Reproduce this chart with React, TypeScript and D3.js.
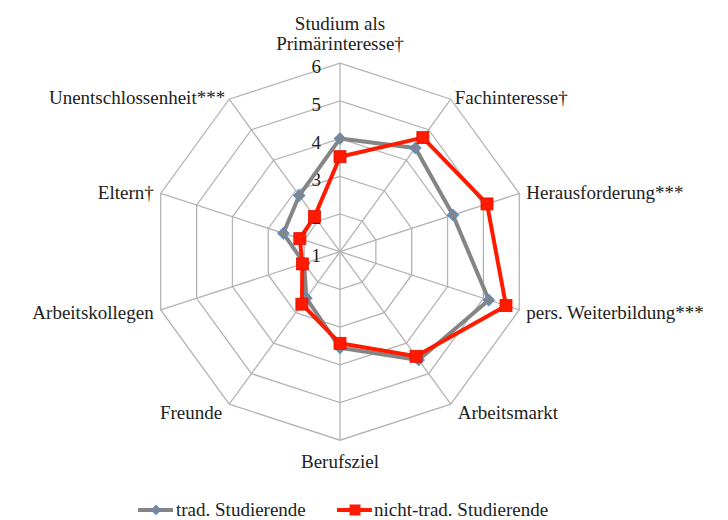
import React from "react";
import * as d3 from "d3";

const categories: string[][] = [
  ["Studium als", "Primärinteresse†"],
  ["Fachinteresse†"],
  ["Herausforderung***"],
  ["pers. Weiterbildung***"],
  ["Arbeitsmarkt"],
  ["Berufsziel"],
  ["Freunde"],
  ["Arbeitskollegen"],
  ["Eltern†"],
  ["Unentschlossenheit***"],
];
const tradValues = [4.0, 4.4, 4.15, 5.15, 4.55, 3.55, 2.52, 2.0, 2.58, 2.84];
const nichtTradValues = [3.52, 4.74, 5.1, 5.63, 4.43, 3.43, 2.72, 2.05, 2.12, 2.15];
const ticks = [1, 2, 3, 4, 5, 6];
const seriesNames = ["trad. Studierende", "nicht-trad. Studierende"];

const W = 728;
const H = 520;
const cx = 340;
const cy = 251.7;
const R = 188.5;
const FONT = "'Liberation Serif', 'Times New Roman', serif";
const FS = 19;

export default function App() {
  const r = d3.scaleLinear().domain([1, 6]).range([0, R]);
  const n = categories.length;
  const angle = d3.scaleLinear().domain([0, n]).range([0, 2 * Math.PI]);
  const pt = (i: number, v: number): [number, number] => {
    const a = angle(i);
    return [cx + r(v) * Math.sin(a), cy - r(v) * Math.cos(a)];
  };
  const closed = d3.line().curve(d3.curveLinearClosed);
  const labelDy = d3.scaleLinear().domain([-1, -0.81, -0.31, 0.31, 0.81]).range([28, 15, 9, 6, 5]);

  const gridColor = "#b4b4b4";
  const grayColor = "#858585";
  const redColor = "#ff1a00";

  const diamond = (x: number, y: number, s: number) =>
    `M${x},${y - s}L${x + s},${y}L${x},${y + s}L${x - s},${y}Z`;

  const legendY = 510;

  return (
    <svg
      width={W}
      height={H}
      style={{ position: "absolute", left: 0, top: 0, background: "#fff" }}
      fontFamily={FONT}
      fontSize={FS}
    >
      {/* rings */}
      {ticks.slice(1).map((t) => (
        <path
          key={"ring" + t}
          d={closed(d3.range(n).map((i) => pt(i, t))) || ""}
          fill="none"
          stroke={gridColor}
          strokeWidth={1.3}
        />
      ))}
      {/* spokes */}
      {d3.range(n).map((i) => {
        const [x, y] = pt(i, 6);
        return <line key={"sp" + i} x1={cx} y1={cy} x2={x} y2={y} stroke={gridColor} strokeWidth={1.3} />;
      })}
      {/* tick labels */}
      {ticks.map((t) => (
        <text key={"t" + t} x={cx - 19} y={cy - r(t) + 10} textAnchor="end" fill="#222">
          {t}
        </text>
      ))}
      {/* category labels */}
      {categories.map((lines, i) => {
        const a = angle(i);
        const s = Math.sin(a);
        const c = Math.cos(a);
        const [vx, vy] = pt(i, 6);
        if (Math.abs(s) < 0.01 && c > 0) {
          return (
            <text key={"c" + i} x={vx} textAnchor="middle" fill="#222">
              {lines.map((l, k) => (
                <tspan key={k} x={vx} y={vy - 13 - (lines.length - 1 - k) * 20}>
                  {l}
                </tspan>
              ))}
            </text>
          );
        }
        const anchor = Math.abs(s) < 0.01 ? "middle" : s > 0 ? "start" : "end";
        const dx = Math.abs(s) < 0.01 ? 0 : (s > 0 ? 1 : -1) * (Math.abs(c) > 0.7 && c > 0 ? 4 : 7);
        return (
          <text key={"c" + i} x={vx + dx} y={vy + labelDy(c)} textAnchor={anchor} fill="#222">
            {lines.join(" ")}
          </text>
        );
      })}
      {/* trad series */}
      <path
        d={closed(tradValues.map((v, i) => pt(i, v))) || ""}
        fill="none"
        stroke={grayColor}
        strokeWidth={4}
        strokeLinejoin="round"
      />
      {tradValues.map((v, i) => {
        const [x, y] = pt(i, v);
        return <path key={"d" + i} d={diamond(x, y, 5.5)} fill={grayColor} stroke="#5b8cc8" strokeWidth={1.2} />;
      })}
      {/* nicht-trad series */}
      <path
        d={closed(nichtTradValues.map((v, i) => pt(i, v))) || ""}
        fill="none"
        stroke={redColor}
        strokeWidth={4}
        strokeLinejoin="round"
      />
      {nichtTradValues.map((v, i) => {
        const [x, y] = pt(i, v);
        return <rect key={"s" + i} x={x - 6} y={y - 6} width={12} height={12} fill={redColor} stroke="#e01000" strokeWidth={0.8} />;
      })}
      {/* legend */}
      <g>
        <line x1={138} y1={legendY} x2={173} y2={legendY} stroke={grayColor} strokeWidth={4} />
        <path d={diamond(156, legendY, 4.5)} fill={grayColor} stroke="#5b8cc8" strokeWidth={1.2} />
        <text x={176} y={legendY + 6} fill="#222">{seriesNames[0]}</text>
        <line x1={337} y1={legendY} x2={372} y2={legendY} stroke={redColor} strokeWidth={4} />
        <rect x={349.5} y={legendY - 5.5} width={11} height={11} fill={redColor} />
        <text x={374} y={legendY + 6} fill="#222">{seriesNames[1]}</text>
      </g>
    </svg>
  );
}
